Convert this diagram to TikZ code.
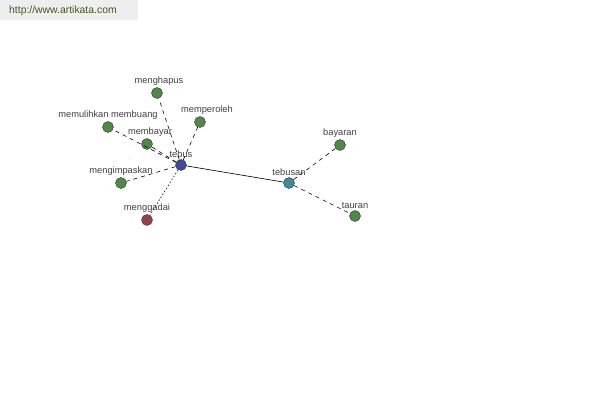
\documentclass[tikz,border=0pt]{standalone}
\usepackage{fontspec}
\setmainfont{Liberation Sans}
\usetikzlibrary{positioning}
\definecolor{WordGreen}{HTML}{4E8A45}
\definecolor{WordBlue}{HTML}{3D4A9E}
\definecolor{WordTeal}{HTML}{3A8C95}
\definecolor{WordRed}{HTML}{96404A}
\definecolor{LinkText}{HTML}{3E5A1E}
\definecolor{HeadGrey}{HTML}{EEEEEE}
\begin{document}
\begin{tikzpicture}[x=1pt, y=-1pt, every node/.style={font=\fontsize{9.3}{10}\selectfont, text=black!75},
  word/.style={circle, draw=black!80, fill=WordGreen, inner sep=0pt, minimum size=11pt},
  link/.style={draw=black, dash pattern=on 4pt off 4pt, line width=0.6pt},
  fine/.style={draw=black, dash pattern=on 1.5pt off 2pt, line width=0.6pt}]
\useasboundingbox (0,0) rectangle (600,400);
\fill[HeadGrey] (0,0) rectangle (138,20);
\node[anchor=west, inner sep=0pt, text=LinkText, font=\fontsize{10.4}{11}\selectfont] (site) at (9,11) {http://www.artikata.com};
% words
\node[word, fill=WordBlue] (tebus) at (181,165) {};
\node[word] (menghapus) at (157,93) {};
\node[word] (memperoleh) at (200,122) {};
\node[word] (memulihkan) at (108,127) {};
\node[word] (membayar) at (147,144) {};
\node[word] (mengimpaskan) at (121,183) {};
\node[word, fill=WordRed] (menggadai) at (147,220) {};
\node[word, fill=WordTeal] (tebusan) at (289,183) {};
\node[word] (bayaran) at (340,145) {};
\node[word] (tauran) at (355,216) {};
% labels
\node[above=-1.5pt of tebus] {tebus};
\node[above=-1.5pt of menghapus, xshift=2pt] {menghapus};
\node[above=-1.5pt of memperoleh, xshift=7pt] {memperoleh};
\node[above=-1.5pt of memulihkan] {memulihkan membuang};
\node[above=-1.5pt of membayar, xshift=3pt] {membayar};
\node[above=-1.5pt of mengimpaskan] {mengimpaskan};
\node[above=-1.5pt of menggadai] {menggadai};
\node[above=-1.5pt of tebusan] {tebusan};
\node[above=-1.5pt of bayaran] {bayaran};
\node[above=-1.5pt of tauran] {tauran};
% links
\draw[black, line width=0.6pt] (tebus) -- (tebusan);
\draw[link] (tebus) -- (menghapus);
\draw[link] (tebus) -- (memperoleh);
\draw[link] (tebus) -- (memulihkan);
\draw[link] (tebus) -- (membayar);
\draw[link] (tebus) -- (mengimpaskan);
\draw[fine] (tebus) -- (menggadai);
\draw[link] (tebusan) -- (bayaran);
\draw[link] (tebusan) -- (tauran);
\end{tikzpicture}
\end{document}
